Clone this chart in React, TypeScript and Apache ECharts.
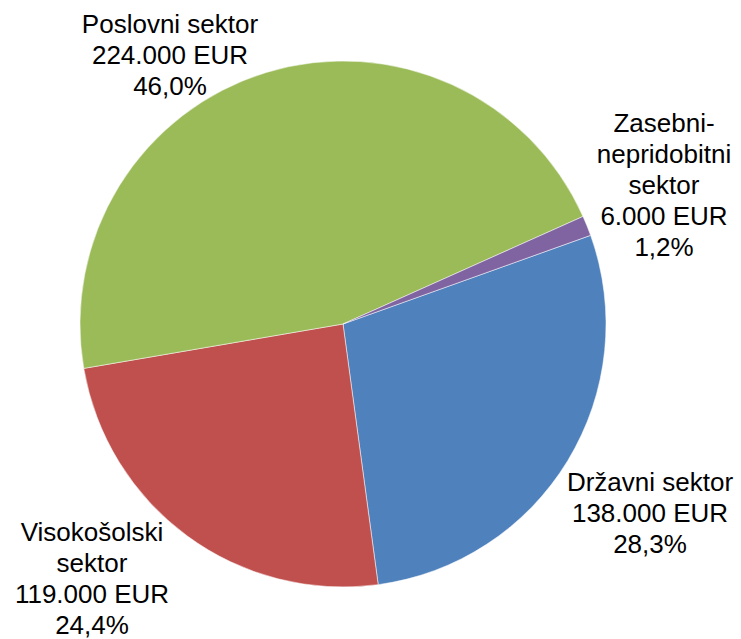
import React, { useEffect, useRef } from "react";
import * as echarts from "echarts";

const categories = ["Državni sektor", "Visokošolski sektor", "Poslovni sektor", "Zasebni-nepridobitni sektor"];
const labelTitles = ["Državni sektor", "Visokošolski\nsektor", "Poslovni sektor", "Zasebni-\nnepridobitni\nsektor"];
const values = [138000, 119000, 224000, 6000];
const percentLabels = ["28,3%", "24,4%", "46,0%", "1,2%"];
const colors = ["#4F81BD", "#C0504D", "#9BBB59", "#8064A2"];
const labelCenters = [
  [650, 513],
  [92, 578],
  [170, 55],
  [664, 185],
];

const fmtEUR = (v: number) => v.toString().replace(/\B(?=(\d{3})+(?!\d))/g, ".") + " EUR";

export default function App() {
  const ref = useRef<HTMLDivElement>(null);
  useEffect(() => {
    if (!ref.current) return;
    const chart = echarts.init(ref.current, undefined, { renderer: "svg" });
    chart.setOption({
      animation: false,
      backgroundColor: "#ffffff",
      series: [
        {
          type: "pie",
          center: [343, 324],
          radius: 263,
          startAngle: 19.7,
          clockwise: true,
          data: categories.map((c, i) => ({
            name: c,
            value: values[i],
            itemStyle: { color: colors[i] },
          })),
          itemStyle: { borderColor: "#ffffff", borderWidth: 0.5 },
          label: {
            show: true,
            position: "inside",
            formatter: (p: any) =>
              labelTitles[p.dataIndex] + "\n" + fmtEUR(values[p.dataIndex]) + "\n" + percentLabels[p.dataIndex],
            fontFamily: "Liberation Sans, Arial, sans-serif",
            fontSize: 26,
            lineHeight: 31,
            color: "#000000",
            align: "center",
            overflow: "none",
          },
          labelLine: { show: false },
          labelLayout: (params: any) => ({
            x: labelCenters[params.dataIndex][0],
            y: labelCenters[params.dataIndex][1],
            align: "center",
            verticalAlign: "middle",
          }),
          emphasis: { disabled: true },
        },
      ],
    });
    return () => chart.dispose();
  }, []);
  return (
    <div
      ref={ref}
      style={{ position: "fixed", left: 0, top: 0, width: 741, height: 639 }}
    />
  );
}
